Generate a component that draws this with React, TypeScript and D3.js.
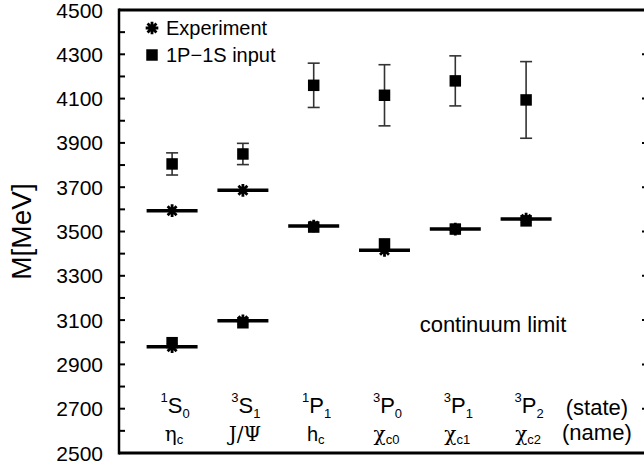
import React from 'react';
import * as d3 from 'd3';

// charmonium states, one column per state (index 1..6)
const stateSup = ['1', '3', '1', '3', '3', '3'];
const stateMain = ['S', 'S', 'P', 'P', 'P', 'P'];
const stateSub = ['0', '1', '1', '0', '1', '2'];
const nameMain = ['η', 'J/Ψ', 'h', 'χ', 'χ', 'χ'];
const nameSub = ['c', '', 'c', 'c0', 'c1', 'c2'];

// experimental masses (ground states) and the two known excited S states
const expGround = [2980, 3097, 3525, 3415, 3511, 3556];
const expExcited = [3594, 3686];

// 1P-1S input (lattice) results
const inputGround = [2998, 3088, 3520, 3444, 3511, 3548];
const inputExcited = [3805, 3850, 4160, 4115, 4180, 4094];
const inputExcitedErr = [50, 48, 100, 138, 113, 173];

const yTicks = d3.range(2500, 4501, 100);
const yLabels = d3.range(2500, 4501, 200);

const width = 644;
const height = 470;

// 8-armed asterisk marker
const star8 = {
  draw(ctx: any, size: number) {
    const r = Math.sqrt(size) / 2;
    for (let k = 0; k < 4; k++) {
      const a = (k * Math.PI) / 4;
      ctx.moveTo(r * Math.sin(a), -r * Math.cos(a));
      ctx.lineTo(-r * Math.sin(a), r * Math.cos(a));
    }
  }
};

export default function App() {
  const x = d3.scaleLinear().domain([0.25, 7.75]).range([119, 650]);
  const y = d3.scaleLinear().domain([2500, 4500]).range([453, 10]);

  const starPath = d3.symbol(star8 as any, 160)() as string;
  const squarePath = d3.symbol(d3.symbolSquare, 132)() as string;
  const half = 0.36;
  const cap = 6;
  const font = '"Liberation Sans", Arial, Helvetica, sans-serif';
  const greek = '"DejaVu Serif", "Liberation Serif", serif';

  const [x0, x1] = x.range();
  const [yb, yt] = y.range();

  const segment = (i: number, v: number, key: string) => (
    <line key={key} x1={x(i + 1 - half)} x2={x(i + 1 + half)} y1={y(v)} y2={y(v)}
      stroke="#000" strokeWidth={3.5} />
  );

  return (
    <div style={{ position: 'fixed', left: 0, top: 0 }}>
      <svg width={width} height={height} style={{ display: 'block', background: '#fff' }}
        fontFamily={font}>
        {/* frame */}
        <line x1={x0} x2={x0} y1={yt - 1.5} y2={yb + 1.5} stroke="#000" strokeWidth={2.5} />
        <line x1={x0} x2={x1} y1={yt} y2={yt} stroke="#000" strokeWidth={3} />
        <line x1={x0} x2={x1} y1={yb} y2={yb} stroke="#000" strokeWidth={3} />
        <line x1={x1} x2={x1} y1={yt} y2={yb} stroke="#000" strokeWidth={2.5} />
        {yTicks.map(t => {
          const major = (t - 2500) % 200 === 0;
          return (
            <g key={t}>
              <line x1={x0} x2={x0 + 6} y1={y(t)} y2={y(t)} stroke="#000" strokeWidth={2} />
              <line x1={x1} x2={x1 - (major ? 8 : 4)} y1={y(t)} y2={y(t)} stroke="#000" strokeWidth={2} />
            </g>
          );
        })}
        {yLabels.map(t => (
          <text key={t} x={103} y={y(t)} dy="0.36em" textAnchor="end" fontSize={21}>{t}</text>
        ))}
        <text transform={`translate(31,${(yt + yb) / 2}) rotate(-90)`} textAnchor="middle"
          fontSize={28}>M[MeV]</text>

        {/* experimental levels */}
        {expGround.map((v, i) => segment(i, v, 'g' + i))}
        {expExcited.map((v, i) => segment(i, v, 'e' + i))}

        {/* error bars for excited input */}
        {inputExcited.map((v, i) => {
          const cx = x(i + 1);
          const e = inputExcitedErr[i];
          return (
            <g key={'err' + i} stroke="#333" strokeWidth={1.6}>
              <line x1={cx} x2={cx} y1={y(v + e)} y2={y(v - e)} />
              <line x1={cx - cap} x2={cx + cap} y1={y(v + e)} y2={y(v + e)} />
              <line x1={cx - cap} x2={cx + cap} y1={y(v - e)} y2={y(v - e)} />
            </g>
          );
        })}

        {/* experiment stars */}
        {[...expGround.map((v, i) => [i, v]), ...expExcited.map((v, i) => [i, v])].map(([i, v], k) => (
          <path key={'s' + k} d={starPath} transform={`translate(${x(i + 1)},${y(v)})`}
            fill="none" stroke="#000" strokeWidth={2.8} />
        ))}

        {/* input squares */}
        {[...inputGround.map((v, i) => [i, v]), ...inputExcited.map((v, i) => [i, v])].map(([i, v], k) => (
          <path key={'q' + k} d={squarePath} transform={`translate(${x(i + 1)},${y(v)})`} fill="#000" />
        ))}

        {/* legend */}
        <path d={starPath} transform="translate(152,28)" fill="none" stroke="#000" strokeWidth={2.8} />
        <text x={166} y={28} dy="0.36em" fontSize={20}>Experiment</text>
        <path d={squarePath} transform="translate(152,55)" fill="#000" />
        <text x={166} y={55} dy="0.36em" fontSize={20}>1P−1S input</text>

        <text x={493} y={332} textAnchor="middle" fontSize={22}>continuum limit</text>

        {/* state / name labels */}
        {stateMain.map((s, i) => (
          <text key={'st' + i} x={x(i + 1) + 3} y={413} textAnchor="middle" fontSize={22}>
            <tspan fontSize={13} dy={-11}>{stateSup[i]}</tspan>
            <tspan dy={11}>{s}</tspan>
            <tspan fontSize={13} dy={5}>{stateSub[i]}</tspan>
          </text>
        ))}
        {nameMain.map((s, i) => (
          <text key={'nm' + i} x={x(i + 1) + 2} y={441} textAnchor="middle" fontSize={20}>
            <tspan fontFamily={i === 2 ? font : greek}>{s}</tspan>
            {nameSub[i] && <tspan fontSize={13} dy={3}>{nameSub[i]}</tspan>}
          </text>
        ))}
        <text x={x(7)} y={415} textAnchor="middle" fontSize={22}>(state)</text>
        <text x={x(7)} y={440} textAnchor="middle" fontSize={22}>(name)</text>
      </svg>
    </div>
  );
}
